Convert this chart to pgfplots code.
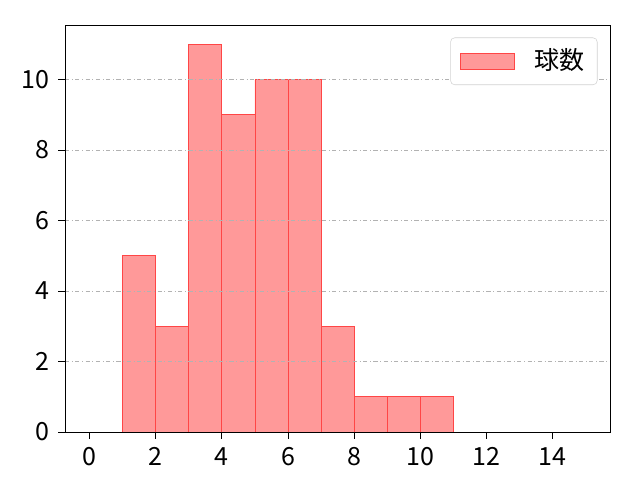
\documentclass[border=0pt]{standalone}
\usepackage{pgfplots}
\pgfplotsset{compat=1.18}
\usepackage{fontspec}
\setmainfont{Noto Sans CJK JP}

\definecolor{barfill}{RGB}{255,153,153}
\definecolor{baredge}{RGB}{255,70,70}

\begin{document}
\fontsize{18}{21}\selectfont
\begin{tikzpicture}
  \begin{axis}[
    name=ax,
    scale only axis,
    width=392.4pt, height=293pt,
    xmin=-0.75, xmax=15.75, ymin=0, ymax=11.55,
    xtick={0,2,...,14}, ytick={0,2,...,10},
    ymajorgrids,
    grid style={gray!60, dash dot, line width=0.6pt},
    axis on top,
    tick align=outside, major tick length=5pt,
    tick style={black, line width=0.6pt},
    axis line style={line width=0.6pt},
    xtick pos=bottom, ytick pos=left,
    /pgf/number format/assume math mode=true,
    legend style={at={(1,1)}, anchor=north east, xshift=-9pt, yshift=-9pt,
      draw=gray!35, rounded corners=3pt, inner xsep=7pt, inner ysep=6pt,
      font=\fontsize{18}{21}\selectfont},
    legend cell align=left,
    legend image code/.code={
      \draw[sharp corners, draw=baredge, fill=barfill] (0pt,-6pt) rectangle (39pt,6pt);
    },
  ]
    \addplot[ybar interval, fill=barfill, draw=baredge, line width=0.6pt]
    coordinates {
      (1,5) (2,3) (3,11) (4,9) (5,10) (6,10) (7,3) (8,1) (9,1) (10,1) (11,1)
    };
    \addlegendentry{\hspace{12pt}球数}
  \end{axis}
  \path ([xshift=-46.8pt,yshift=-34.56pt]ax.south west)
        rectangle ([xshift=21.6pt,yshift=18pt]ax.north east);
\end{tikzpicture}
\end{document}
